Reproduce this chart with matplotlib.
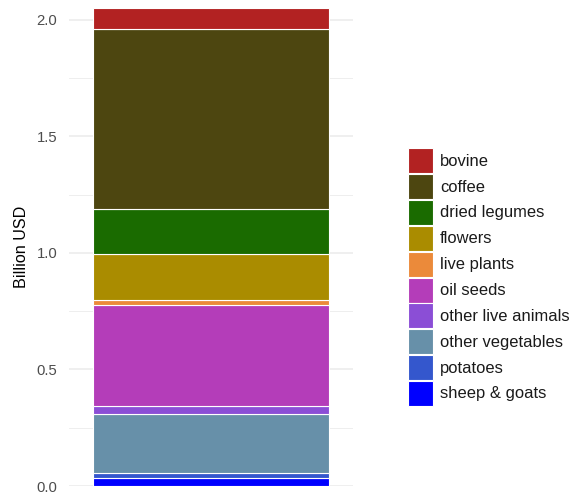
import matplotlib.pyplot as plt
from matplotlib.patches import Rectangle

plt.rcParams['font.family'] = ['Liberation Sans', 'DejaVu Sans']

# categories, bottom to top of the stack
categories = ['sheep & goats', 'potatoes', 'other vegetables', 'other live animals',
              'oil seeds', 'live plants', 'flowers', 'dried legumes', 'coffee', 'bovine']
values = [0.036, 0.021, 0.250, 0.036, 0.432, 0.021, 0.199, 0.193, 0.774, 0.088]
colors = ['#0000FF', '#3457CD', '#6790A9', '#8B4ED6', '#B43DB9',
          '#EB8A3A', '#AA8C00', '#1A6B00', '#4D4610', '#B22222']
yticks = [0.0, 0.5, 1.0, 1.5, 2.0]
minor_ticks = [0.25, 0.75, 1.25, 1.75]

W, H = 572, 497
fig = plt.figure(figsize=(W / 100, H / 100), dpi=100)
ax = fig.add_axes([69 / W, 11 / H, 284 / W, 478 / H])

bottom = 0.0
for cat, v, c in zip(categories, values, colors):
    ax.bar(1, v, bottom=bottom, width=1.0, color=c, edgecolor='white', linewidth=0.8, zorder=3)
    bottom += v

ax.set_xlim(0.4, 1.6)
ax.set_ylim(0, bottom)

ax.set_yticks(yticks)
ax.set_yticklabels([f'{t:.1f}' for t in yticks])
ax.set_yticks(minor_ticks, minor=True)
ax.set_xticks([])
ax.tick_params(axis='y', which='both', length=0, labelsize=10.7, labelcolor='#4D4D4D', pad=8.5)
ax.grid(True, axis='y', which='major', color='#EBEBEB', linewidth=1.1, zorder=0)
ax.grid(True, axis='y', which='minor', color='#EBEBEB', linewidth=0.6, zorder=0)
for s in ax.spines.values():
    s.set_visible(False)
ax.set_ylabel('Billion USD', fontsize=11.6, labelpad=5)

# legend, drawn by hand: alphabetical top to bottom
key_x, key_top, key_size, pitch = 408, 148.3, 25, 25.84
for i, (cat, c) in enumerate(zip(categories[::-1], colors[::-1])):
    top = key_top + i * pitch
    fig.add_artist(Rectangle((key_x / W, 1 - (top + key_size) / H), key_size / W, key_size / H,
                             transform=fig.transFigure, facecolor=c, edgecolor='white',
                             linewidth=0.8))
    fig.text(440 / W, 1 - (top + key_size / 2 + 0.5) / H, cat, fontsize=11.9,
             va='center', ha='left', color='#1A1A1A')

fig.savefig('out.png', dpi=100)
